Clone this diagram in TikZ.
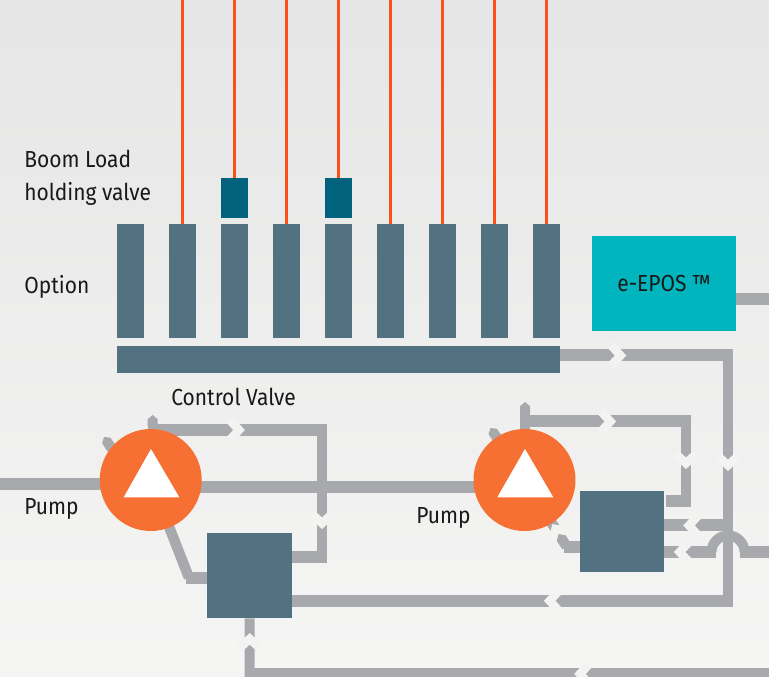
\documentclass[tikz,border=0pt]{standalone}
\usepackage{fontspec}
\setmainfont[FakeStretch=0.905]{Fira Sans}
\usepackage{tikz}
\usetikzlibrary{arrows.meta, calc, positioning, backgrounds}
\definecolor{SpoolBlue}{RGB}{82,114,130}
\definecolor{HoldBlue}{RGB}{0,98,125}
\definecolor{PipeGrey}{RGB}{167,169,172}
\definecolor{PumpOrange}{RGB}{245,112,50}
\definecolor{PilotRed}{RGB}{250,80,30}
\definecolor{EposTeal}{RGB}{0,181,190}
\definecolor{PaperGrey}{RGB}{243,243,242}
\tikzset{
	spool/.style={fill=SpoolBlue, inner sep=0pt, minimum width=20.25pt, minimum height=85.5pt},
	hold/.style={fill=HoldBlue, inner sep=0pt, minimum width=20.25pt, minimum height=30pt},
	block/.style={fill=SpoolBlue, inner sep=0pt},
	pump/.style={circle, fill=PumpOrange, inner sep=0pt, minimum size=76.5pt},
	pipe/.style={draw=PipeGrey, line width=9pt},
	riser/.style={draw=PipeGrey, line width=7.5pt},
	pipeend/.style={riser, -{Triangle Cap[cap angle=100]}},
	pilot/.style={draw=PilotRed, line width=2.25pt, xshift=0.4pt},
	label/.style={font=\fontsize{17.4}{24}\selectfont, text=black!90, inner sep=0pt, anchor=base west},
	cut/.pic={\draw[PaperGrey, line width=6.4pt, miter limit=10] (-9.2,-10) -- (0,0) -- (-9.2,10);}
}
\begin{document}
\begin{tikzpicture}[x=0.75pt, y=-0.75pt]
	\useasboundingbox (0,0) rectangle (769,677);

	% spools
	\foreach \x/\n in {130.5/a, 182.5/b, 234.5/c, 286.5/d, 338.5/e, 390.5/f, 442.5/g, 494.5/h, 546.5/i}
		\node[spool] (\n) at (\x,281) {};
	\node[hold] (hc) at (234.5,198) {};
	\node[hold] (he) at (338.5,198) {};
	\node[block, minimum width=332.25pt, minimum height=20pt] (bank) at (338.5,359.4) {};

	% pilot lines
	\foreach \n in {b, d, f, g, h, i, hc, he}
		\draw[pilot] (\n.north) -- (\n.north |- 0,0);

	\node[fill=EposTeal, inner sep=0pt, minimum width=108pt, minimum height=71.25pt, font=\fontsize{17.4}{20}\selectfont, text=black!90] (epos) at (664,283.5) {e-EPOS ™};
	\node[block, minimum size=63.75pt] (boxa) at (249.5,575.5) {};
	\node[block, minimum width=63pt, minimum height=60.75pt] (boxb) at (622,531.25) {};
	\node[pump] (pumpa) at (150.7,480) {};
	\node[pump] (pumpb) at (524.5,480) {};
	\fill[white] (151,449) -- (179.3,497.3) -- (123.7,497.3) -- cycle;
	\fill[white] (525,449) -- (553.3,497.3) -- (497.3,497.3) -- cycle;

	% free ends of the pipes
	\coordinate (ea) at (0,484);
	\coordinate (eb) at (769,299.5);
	\coordinate (ec) at (769,552);
	\coordinate (ed) at (769,674);
	\coordinate (ta) at (152.7,415);
	\coordinate (tb) at (525,402);
	\coordinate (da) at (104,437);
	\coordinate (db) at (490.5,428);

	\begin{scope}[on background layer]
		\shade[top color=black!10, middle color=PaperGrey, bottom color=PaperGrey!80!white] (0,0) rectangle (769,677);

		\draw[pipe] (ea) -- (pumpa.center |- ea);
		\draw[pipe] (pumpa.center |- 0,487.5) -- (pumpb.center |- 0,487.5);
		\draw[pipeend] (pumpa.center -| ta) -- (ta);
		\draw[pipeend] (pumpb.center -| tb) -- (tb);
		\draw[pipeend] ($(pumpa)+(-20,-3)$) -- (da);
		\draw[pipeend] ($(pumpb)+(-8,-12)$) -- (db);

		\draw[pipe] (ta |- 0,430) -- (327,430);
		\draw[riser] (322,424) -- (322,563.3);
		\draw[pipe] (boxa.east |- 0,557.5) -- (327,557.5);

		\draw[pipe] (tb |- 0,421.5) -- (690.8,421.5);
		\draw[riser] (686,415.5) -- (686,507.3);
		\draw[pipe] (666,501.3) -- (690.8,501.3);

		\draw[riser, line width=7.8pt] (pumpa.center) -- (189,577.7);
		\draw[pipe] (186,577.7) -- (boxa.west |- 0,577.7);
		\draw[riser, line width=7.8pt] (pumpb.center) -- (566.7,546.7);
		\draw[pipe] (564,546.7) -- (boxb.west |- 0,546.7);

		\draw[pipe] (bank.east |- 0,355.5) -- (733,355.5);
		\draw[pipe] (boxa.east |- 0,600.8) -- (733,600.8);
		\draw[riser] (boxa.south) -- (249.7,680);
		\draw[pipe] (245,674) -- (ed);
		\draw[pipe] (epos.east |- eb) -- (eb);
		\draw[pipe] (boxb.east |- 0,525.5) -- (728,525.5);
		\draw[riser] (711.5,552) arc[start angle=180, end angle=360, radius=16.5];
		\draw[pipe] (boxb.east |- ec) -- (716,552);
		\draw[pipe] (740,552) -- (ec);
		\draw[riser] (728,349.5) -- (728,606.8);

		% breaks in the pipes
		\foreach \x/\y/\r in {239/430/0, 322/523.3/-90, 249.7/638.8/90, 620.5/355.5/0, 728/465.3/-90, 610.3/421.5/0,
			686/463.3/-90, 549.7/600.8/180, 580/674/180, 689/525.5/180, 679.7/552/180, 555.5/529/122}
			\pic[rotate=\r] at (\x,\y) {cut};
	\end{scope}

	% labels
	\node[label] (boom) at (24,167.7) {Boom Load};
	\node[label] (holding) at (24,200.5) {holding valve};
	\node[label] (option) at (24,293.3) {Option};
	\node[label] (valve) at (171,406) {Control Valve};
	\node[label] (pla) at (24,514.3) {Pump};
	\node[label] (plb) at (416,523.5) {Pump};
\end{tikzpicture}
\end{document}
